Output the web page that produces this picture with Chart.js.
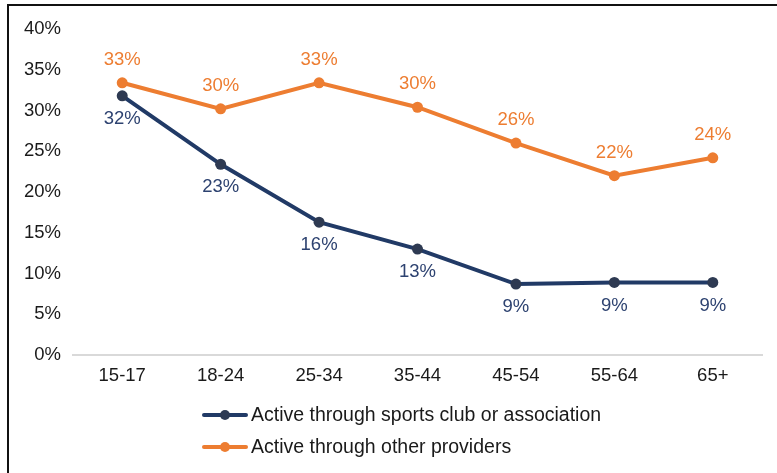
<!DOCTYPE html>
<html>
<head>
<meta charset="utf-8">
<script src="https://cdn.jsdelivr.net/npm/chart.js@4"></script>
<style>
  html, body { margin: 0; padding: 0; background: #fff; }
  #wrap { position: relative; width: 777px; height: 473px; overflow: hidden; }
  #frame { position: absolute; left: 7px; top: 4px; right: -10px; bottom: -10px;
           border-top: 2px solid #111; border-left: 2px solid #111; }
  canvas { position: absolute; left: 0; top: 0; }
</style>
</head>
<body>
<div id="wrap">
  <div id="frame"></div>
  <canvas id="activity" width="777" height="473"></canvas>
</div>
<script>

const ageGroups = ['15-17', '18-24', '25-34', '35-44', '45-54', '55-64', '65+'];
const clubShare = [31.8, 23.4, 16.3, 13.0, 8.7, 8.9, 8.9];
const otherShare = [33.4, 30.2, 33.4, 30.4, 26.0, 22.0, 24.2];
const yTicks = [0, 5, 10, 15, 20, 25, 30, 35, 40];

const FONT = "'Liberation Sans', Arial, Helvetica, sans-serif";

// value labels drawn next to each point
const pointLabels = {
  id: 'pointLabels',
  afterDatasetsDraw(chart) {
    const c = chart.ctx;
    c.save();
    c.font = '18.5px ' + FONT;
    c.textAlign = 'center';
    c.textBaseline = 'middle';
    chart.data.datasets.forEach((ds, i) => {
      const meta = chart.getDatasetMeta(i);
      c.fillStyle = ds.labelColor;
      meta.data.forEach((pt, j) => {
        c.fillText(Math.round(ds.data[j]) + '%', pt.x, pt.y + ds.labelOffset);
      });
    });
    c.restore();
  }
};

// legend: line with a dot, stacked under the axis
const lineLegend = {
  id: 'lineLegend',
  afterDraw(chart) {
    const c = chart.ctx;
    c.save();
    c.font = '19.5px ' + FONT;
    c.textBaseline = 'middle';
    chart.data.datasets.forEach((ds, i) => {
      const y = 415 + i * 32;
      c.strokeStyle = ds.borderColor;
      c.lineWidth = 4;
      c.lineCap = 'round';
      c.beginPath();
      c.moveTo(204, y);
      c.lineTo(246, y);
      c.stroke();
      c.fillStyle = ds.pointBackgroundColor;
      c.beginPath();
      c.arc(225, y, 5, 0, Math.PI * 2);
      c.fill();
      c.fillStyle = '#1a1a1a';
      c.fillText(ds.label, 251, y + 1);
    });
    c.restore();
  }
};

new Chart(document.getElementById('activity'), {
  type: 'line',
  data: {
    labels: ageGroups,
    datasets: [{
      label: 'Active through sports club or association',
      data: clubShare,
      borderColor: '#213a66',
      pointBackgroundColor: '#2e3a52',
      pointBorderWidth: 0,
      pointRadius: 5.5,
      borderWidth: 4,
      labelColor: '#2d4270',
      labelOffset: 23
    }, {
      label: 'Active through other providers',
      data: otherShare,
      borderColor: '#ed7d31',
      pointBackgroundColor: '#ed7d31',
      pointBorderWidth: 0,
      pointRadius: 5.5,
      borderWidth: 4,
      labelColor: '#ed7d31',
      labelOffset: -23
    }]
  },
  options: {
    responsive: false,
    animation: false,
    layout: {
      padding: { left: 0, right: 15, top: 29, bottom: 73 }
    },
    plugins: {
      legend: { display: false },
      tooltip: { enabled: false }
    },
    scales: {
      x: {
        offset: true,
        grid: { display: false, drawTicks: false },
        border: { display: true, color: '#d9d9d9', width: 2 },
        ticks: { color: '#1a1a1a', font: { family: FONT, size: 18.5 }, padding: 10 },
        afterFit(scale) { scale.height = 45; }
      },
      y: {
        min: 0,
        max: 40,
        grid: { display: false, drawTicks: false },
        border: { display: false },
        afterBuildTicks(scale) { scale.ticks = yTicks.map(v => ({ value: v })); },
        ticks: {
          color: '#1a1a1a',
          font: { family: FONT, size: 18.5 },
          padding: 12,
          callback: v => v + '%'
        },
        afterFit(scale) { scale.width = 73; }
      }
    }
  },
  plugins: [pointLabels, lineLegend]
});
</script>
</body>
</html>
